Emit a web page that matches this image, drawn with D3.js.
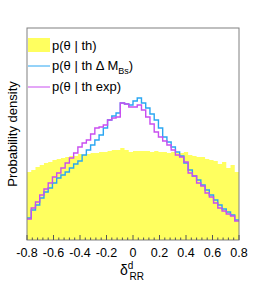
<!DOCTYPE html>
<html>
<head>
<meta charset="utf-8">
<script src="https://cdn.jsdelivr.net/npm/d3@7"></script>
<style>
  body { margin: 0; background: #fff; }
  svg { display: block; font-family: "Liberation Sans", Arial, sans-serif; }
</style>
</head>
<body>
<svg id="plot" width="266" height="283"></svg>
<script>
// 50 bins over [-0.8, 0.8]
const x_min = -0.8, x_max = 0.8, n_bins = 50;

// p(theta | th)  (yellow, filled)
const p_th = [0.68,0.70,0.73,0.75,0.77,0.78,0.80,0.81,0.82,0.83,
              0.84,0.84,0.86,0.85,0.86,0.87,0.87,0.88,0.88,0.89,
              0.90,0.90,0.92,0.90,0.88,0.89,0.89,0.89,0.89,0.88,
              0.89,0.88,0.88,0.87,0.88,0.87,0.87,0.88,0.85,0.84,
              0.83,0.83,0.81,0.80,0.79,0.76,0.78,0.72,0.75,0.68];

// p(theta | th dM_Bs)  (blue line)
const p_th_dmbs = [0.22,0.30,0.35,0.42,0.48,0.52,0.57,0.62,0.65,0.68,
                   0.72,0.76,0.79,0.85,0.90,0.95,1.00,1.05,1.12,1.20,
                   1.24,1.27,1.37,1.36,1.35,1.39,1.42,1.37,1.32,1.26,
                   1.20,1.12,1.03,0.98,0.93,0.88,0.84,0.77,0.70,0.64,
                   0.60,0.55,0.50,0.45,0.40,0.35,0.31,0.28,0.25,0.20];

// p(theta | th exp)  (magenta line)
const p_th_exp = [0.21,0.32,0.38,0.45,0.51,0.57,0.63,0.67,0.72,0.77,
                  0.82,0.87,0.93,0.97,1.00,1.06,1.12,1.13,1.15,1.20,
                  1.22,1.23,1.37,1.36,1.33,1.33,1.35,1.30,1.23,1.16,
                  1.08,1.03,0.99,0.95,0.90,0.85,0.83,0.78,0.67,0.64,
                  0.57,0.54,0.47,0.43,0.37,0.32,0.29,0.26,0.24,0.19];

const x_ticks = [-0.8,-0.6,-0.4,-0.2,0,0.2,0.4,0.6,0.8];

const svg = d3.select('#plot');
const frame = {left: 27, right: 239, top: 28, bottom: 240};

const x = d3.scaleLinear().domain([x_min, x_max]).range([frame.left, frame.right]);
const y = d3.scaleLinear().domain([0, 2.12]).range([frame.bottom, frame.top]);

const bin_w = (x_max - x_min) / n_bins;
function stepPoints(vals) {
  const pts = vals.map((v, i) => [x_min + i * bin_w, v]);
  pts.push([x_max, vals[vals.length - 1]]);
  return pts;
}

const area = d3.area()
  .x(d => x(d[0])).y0(y(0)).y1(d => y(d[1]))
  .curve(d3.curveStepAfter);
const line = d3.line()
  .x(d => x(d[0])).y(d => y(d[1]))
  .curve(d3.curveStepAfter);

svg.append('path')
  .attr('d', area(stepPoints(p_th)))
  .attr('fill', '#ffff5f');

svg.append('path')
  .attr('d', line(stepPoints(p_th_dmbs)))
  .attr('fill', 'none')
  .attr('stroke', '#2aa6f2')
  .attr('stroke-width', 1.4);

svg.append('path')
  .attr('d', line(stepPoints(p_th_exp)))
  .attr('fill', 'none')
  .attr('stroke', '#c94ef0')
  .attr('stroke-width', 1.4);

// frame
svg.append('rect')
  .attr('x', frame.left).attr('y', frame.top)
  .attr('width', frame.right - frame.left).attr('height', frame.bottom - frame.top)
  .attr('fill', 'none').attr('stroke', '#808080').attr('stroke-width', 1);

// ticks, drawn inward from the bottom axis
const minor = d3.range(0, 41).map(i => x_min + i * 0.04);
svg.append('g').selectAll('line')
  .data(minor)
  .enter().append('line')
  .attr('x1', d => x(d)).attr('x2', d => x(d))
  .attr('y1', frame.bottom)
  .attr('y2', (d, i) => frame.bottom - (i % 5 === 0 ? 5 : 2.5))
  .attr('stroke', '#555').attr('stroke-width', 1);

svg.append('g').selectAll('text')
  .data(x_ticks)
  .enter().append('text')
  .attr('x', d => x(d))
  .attr('y', 257)
  .attr('text-anchor', 'middle')
  .style('font-size', '12.5px')
  .text(d => d === 0 ? '0' : d3.format('.1f')(d).replace('\u2212', '-'));

// x title
const xt = svg.append('text')
  .attr('x', 120).attr('y', 275)
  .style('font-size', '14px');
xt.append('tspan').text('\u03b4');
xt.append('tspan').attr('dy', -6).style('font-size', '10px').text('d');
xt.append('tspan').attr('x', 129.5).attr('dy', 11).style('font-size', '10px').text('RR');

// y title
svg.append('text')
  .attr('transform', 'translate(17,' + ((frame.top + frame.bottom) / 2) + ') rotate(-90)')
  .attr('text-anchor', 'middle')
  .style('font-size', '13px')
  .text('Probability density');

// legend
const legend = svg.append('g');
legend.append('rect')
  .attr('x', 28).attr('y', 38).attr('width', 22).attr('height', 14)
  .attr('fill', '#ffff5f');
legend.append('line')
  .attr('x1', 28).attr('x2', 50).attr('y1', 66).attr('y2', 66)
  .attr('stroke', '#2aa6f2').attr('stroke-width', 1);
legend.append('line')
  .attr('x1', 28).attr('x2', 50).attr('y1', 87).attr('y2', 87)
  .attr('stroke', '#c94ef0').attr('stroke-width', 1);

legend.append('text').attr('x', 52).attr('y', 50)
  .style('font-size', '13px').text('p(\u03b8 | th)');
const l2 = legend.append('text').attr('x', 52).attr('y', 70)
  .style('font-size', '13px');
l2.append('tspan').text('p(\u03b8 | th \u0394 M');
l2.append('tspan').attr('dy', 4).style('font-size', '9px').text('Bs');
l2.append('tspan').attr('dy', -4).text(')');
legend.append('text').attr('x', 52).attr('y', 91)
  .style('font-size', '13px').text('p(\u03b8 | th exp)');
</script>
</body>
</html>
